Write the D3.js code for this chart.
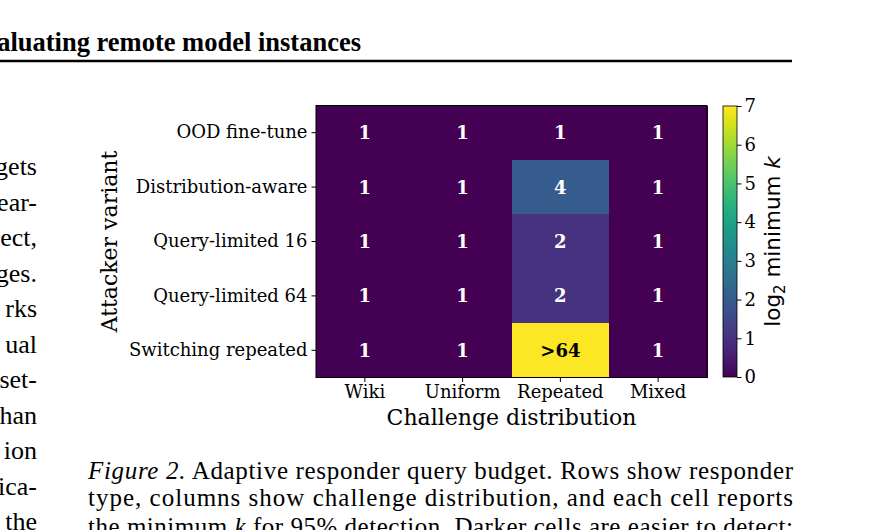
<!DOCTYPE html>
<html>
<head>
<meta charset="utf-8">
<script src="https://cdn.jsdelivr.net/npm/d3@7"></script>
<style>
  body { margin: 0; background: #fff; }
  svg { display: block; }
</style>
</head>
<body>
<script>
// rows / columns of the heatmap
var rows = ["OOD fine-tune", "Distribution-aware", "Query-limited 16", "Query-limited 64", "Switching repeated"];
var cols = ["Wiki", "Uniform", "Repeated", "Mixed"];
// log2 of the minimum k, one array per row
var logK = [
  [0, 0, 0, 0],
  [0, 0, 2, 0],
  [0, 0, 1, 0],
  [0, 0, 1, 0],
  [0, 0, 7, 0]
];
// the label printed in each cell
var cellText = [
  ["1", "1", "1", "1"],
  ["1", "1", "4", "1"],
  ["1", "1", "2", "1"],
  ["1", "1", "2", "1"],
  ["1", "1", ">64", "1"]
];
var cbarTicks = [0, 1, 2, 3, 4, 5, 6, 7];

// bits of the page around the figure
var leftWords = ["gets", "ear-", "ect,", "ges.", "rks", "ual", "set-", "han", "ion", "ica-", "the"];
var captionLines = [
  "Adaptive responder query budget. Rows show responder",
  "type, columns show challenge distribution, and each cell reports",
  "the minimum k for 95% detection. Darker cells are easier to detect;"
];

var W = 883, H = 530;
var svg = d3.select("body").append("svg")
  .attr("width", W)
  .attr("height", H);

var serif = "'DejaVu Serif', serif";
var times = "'Liberation Serif', 'Times New Roman', serif";

// running header
svg.append("text")
  .attr("x", 361).attr("y", 51)
  .attr("text-anchor", "end")
  .style("font-family", times).style("font-weight", "bold").style("font-size", "26.5px")
  .text("Evaluating remote model instances");
svg.append("line")
  .attr("x1", 0).attr("x2", 792).attr("y1", 61).attr("y2", 61)
  .attr("stroke", "#000").attr("stroke-width", 2.5);

// left column fragments
svg.append("g").selectAll("text")
  .data(leftWords)
  .join("text")
  .attr("x", 37)
  .attr("y", function(d, i) { return 175 + i * 35.5; })
  .attr("text-anchor", "end")
  .style("font-family", times).style("font-size", "26px")
  .text(function(d) { return d; });

// heatmap
var margin = {left: 316, top: 105.5, right: 707, bottom: 377.5};
var x = d3.scaleBand().domain(cols).range([margin.left, margin.right]);
var y = d3.scaleBand().domain(rows).range([margin.top, margin.bottom]);
var color = d3.scaleSequential(d3.interpolateViridis).domain([0, 7]);

var cells = [];
rows.forEach(function(r, i) {
  cols.forEach(function(c, j) {
    cells.push({row: r, col: c, v: logK[i][j], label: cellText[i][j]});
  });
});

var g = svg.append("g");
g.selectAll("rect")
  .data(cells)
  .join("rect")
  .attr("x", function(d) { return x(d.col); })
  .attr("y", function(d) { return y(d.row); })
  .attr("width", x.bandwidth() + 0.5)
  .attr("height", y.bandwidth() + 0.5)
  .attr("shape-rendering", "crispEdges")
  .attr("fill", function(d) { return color(d.v); });

g.selectAll("text")
  .data(cells)
  .join("text")
  .attr("x", function(d) { return x(d.col) + x.bandwidth() / 2; })
  .attr("y", function(d) { return y(d.row) + y.bandwidth() / 2; })
  .attr("dy", "0.36em")
  .attr("text-anchor", "middle")
  .attr("fill", function(d) { return d.v > 4 ? "#000" : "#fff"; })
  .style("font-family", serif).style("font-weight", "bold").style("font-size", "18px")
  .text(function(d) { return d.label; });

svg.append("rect")
  .attr("x", margin.left).attr("y", margin.top)
  .attr("width", margin.right - margin.left).attr("height", margin.bottom - margin.top)
  .attr("fill", "none").attr("stroke", "#000").attr("stroke-width", 1);

// axes
var yAxis = svg.append("g")
  .attr("transform", "translate(" + margin.left + ",0)")
  .call(d3.axisLeft(y).tickSize(4.5).tickPadding(4));
var xAxis = svg.append("g")
  .attr("transform", "translate(0," + margin.bottom + ")")
  .call(d3.axisBottom(x).tickSize(4.5).tickPadding(3));
[xAxis, yAxis].forEach(function(a) {
  a.select(".domain").remove();
  a.selectAll("text").style("font-family", serif).style("font-size", "18px").attr("fill", "#000");
  a.selectAll("line").attr("stroke", "#000");
});

svg.append("text")
  .attr("x", (margin.left + margin.right) / 2).attr("y", 425)
  .attr("text-anchor", "middle")
  .style("font-family", serif).style("font-size", "22px")
  .text("Challenge distribution");
svg.append("text")
  .attr("transform", "translate(117," + (margin.top + margin.bottom) / 2 + ") rotate(-90)")
  .attr("text-anchor", "middle")
  .style("font-family", serif).style("font-size", "22px")
  .text("Attacker variant");

// colorbar
var cb = {x: 723, w: 14, top: 106, bottom: 377};
var defs = svg.append("defs");
var grad = defs.append("linearGradient")
  .attr("id", "viridis")
  .attr("x1", 0).attr("y1", 1).attr("x2", 0).attr("y2", 0);
d3.range(0, 1.0001, 0.05).forEach(function(t) {
  grad.append("stop").attr("offset", t).attr("stop-color", d3.interpolateViridis(t));
});
svg.append("rect")
  .attr("x", cb.x).attr("y", cb.top)
  .attr("width", cb.w).attr("height", cb.bottom - cb.top)
  .attr("fill", "url(#viridis)")
  .attr("stroke", "#000").attr("stroke-width", 0.8);
var cy = d3.scaleLinear().domain([0, 7]).range([cb.bottom, cb.top]);
var cAxis = svg.append("g")
  .attr("transform", "translate(" + (cb.x + cb.w) + ",0)")
  .call(d3.axisRight(cy).tickValues(cbarTicks).tickFormat(d3.format("d")).tickSize(4.5).tickPadding(3));
cAxis.select(".domain").remove();
cAxis.selectAll("text").style("font-family", serif).style("font-size", "18px").attr("fill", "#000");
cAxis.selectAll("line").attr("stroke", "#000");

var cl = svg.append("text")
  .attr("transform", "translate(780," + (cb.top + cb.bottom) / 2 + ") rotate(-90)")
  .attr("text-anchor", "middle")
  .style("font-family", "'DejaVu Sans', sans-serif").style("font-size", "21.5px");
cl.append("tspan").text("log");
cl.append("tspan").attr("dy", 5).style("font-size", "15px").text("2");
cl.append("tspan").attr("dy", -5).text(" minimum ");
cl.append("tspan").style("font-style", "italic").text("k");

// caption
var cap = svg.append("g")
  .style("font-family", times).style("font-size", "25px");
var c0 = cap.append("text").attr("x", 88).attr("y", 479)
  .attr("textLength", 705).attr("lengthAdjust", "spacing");
c0.append("tspan").style("font-style", "italic").text("Figure 2.");
c0.append("tspan").text(" " + captionLines[0]);
cap.append("text").attr("x", 88).attr("y", 506)
  .attr("textLength", 705).attr("lengthAdjust", "spacing")
  .text(captionLines[1]);
var c2 = cap.append("text").attr("x", 88).attr("y", 535)
  .attr("textLength", 705).attr("lengthAdjust", "spacing");
c2.append("tspan").text("the minimum ");
c2.append("tspan").style("font-style", "italic").text("k");
c2.append("tspan").text(" for 95% detection. Darker cells are easier to detect;");
</script>
</body>
</html>
